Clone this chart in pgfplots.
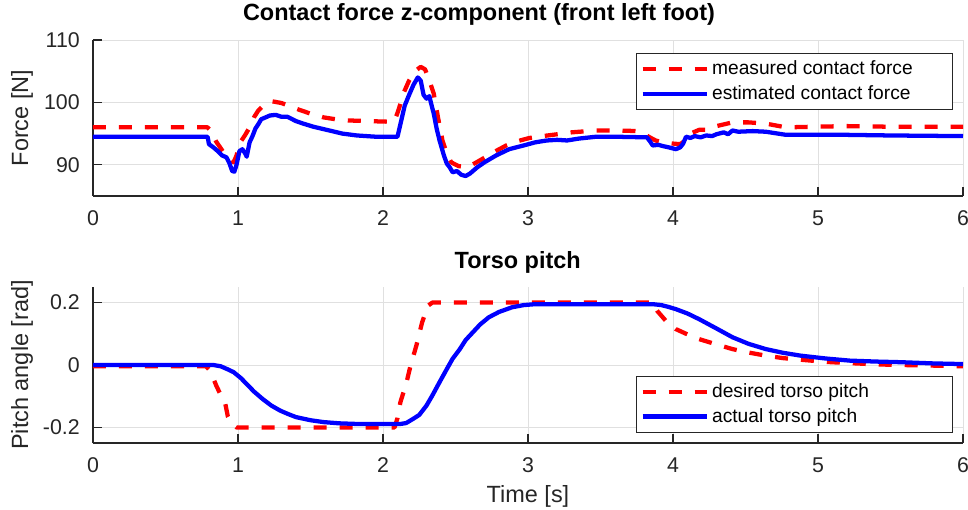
\documentclass[border=0pt]{standalone}
\usepackage{fontspec}
\setmainfont{Liberation Sans}
\usepackage{pgfplots}
\usepackage{pgfplotstable}
\pgfplotsset{compat=1.18}

\definecolor{mred}{rgb}{1,0,0}
\definecolor{mblue}{rgb}{0,0,1}
\definecolor{axgray}{gray}{0.15}
\definecolor{gridgray}{gray}{0.88}

% contact force, z-component
\pgfplotstableread{
t f
0 96.0
0.79 96.0
0.82 95.3
0.85 93.7
0.90 92.0
0.95 90.8
0.97 90.4
0.99 91.5
1.01 93.4
1.05 94.8
1.08 96.0
1.11 97.6
1.14 98.7
1.18 99.6
1.23 100.2
1.30 99.9
1.40 99.0
1.50 98.2
1.59 97.6
1.70 97.2
1.77 97.1
1.90 97.0
2.05 96.9
2.08 97.0
2.11 99.0
2.14 101.4
2.18 103.5
2.22 105.0
2.26 105.7
2.29 105.3
2.32 103.5
2.35 101.4
2.38 97.5
2.41 93.9
2.44 91.8
2.47 90.4
2.52 89.8
2.58 89.6
2.63 90.2
2.69 91.0
2.77 92.1
2.85 93.1
2.93 93.8
3.01 94.3
3.10 94.6
3.17 94.8
3.30 95.2
3.47 95.5
3.60 95.5
3.77 95.4
3.84 94.4
3.88 93.9
3.93 93.6
4.00 93.4
4.05 93.3
4.09 94.0
4.12 95.0
4.18 95.6
4.23 95.6
4.30 96.2
4.41 96.8
4.52 96.8
4.64 96.6
4.78 96.0
4.97 96.1
5.20 96.2
5.50 96.1
6.00 96.1
}\measured

\pgfplotstableread{
t f
0 94.5
0.79 94.5
0.80 93.3
0.83 92.8
0.86 92.2
0.89 91.5
0.92 91.2
0.94 90.3
0.96 89.0
0.975 88.9
0.99 90.0
1.01 92.2
1.03 92.5
1.05 91.8
1.06 91.3
1.08 93.6
1.10 94.6
1.12 95.8
1.14 96.5
1.16 97.3
1.19 97.6
1.22 97.9
1.26 98.0
1.30 97.7
1.34 97.7
1.40 97.0
1.45 96.6
1.52 96.1
1.63 95.5
1.72 95.0
1.82 94.7
1.95 94.5
2.10 94.5
2.12 96.5
2.15 99.5
2.18 101.2
2.21 102.8
2.24 104.0
2.26 103.5
2.28 101.2
2.30 100.6
2.32 101.0
2.33 100.0
2.35 98.2
2.37 95.8
2.39 93.9
2.42 91.5
2.44 90.2
2.46 89.6
2.48 88.8
2.51 89.0
2.54 88.4
2.57 88.2
2.60 88.6
2.65 89.6
2.70 90.4
2.78 91.5
2.87 92.5
2.97 93.1
3.05 93.6
3.13 93.9
3.20 94.0
3.27 93.9
3.35 94.2
3.47 94.5
3.60 94.5
3.82 94.4
3.84 93.8
3.86 93.1
3.90 93.2
3.93 93.0
3.97 92.8
4.02 92.5
4.05 92.8
4.07 93.4
4.09 94.5
4.12 94.3
4.15 94.6
4.19 94.4
4.23 94.7
4.27 94.6
4.30 94.9
4.35 95.2
4.38 94.9
4.41 95.5
4.45 95.3
4.55 95.4
4.64 95.3
4.78 94.8
4.90 94.8
5.20 94.8
5.50 94.7
6.00 94.6
}\estimated

% torso pitch
\pgfplotstableread{
t p
0 -0.004
0.78 -0.004
0.81 -0.02
0.85 -0.066
0.88 -0.095
0.91 -0.119
0.93 -0.165
0.96 -0.19
0.99 -0.2
2.08 -0.2
2.10 -0.17
2.12 -0.119
2.16 -0.06
2.19 -0.002
2.23 0.062
2.27 0.137
2.31 0.19
2.34 0.2
3.86 0.2
3.89 0.174
3.95 0.142
4.02 0.115
4.10 0.098
4.18 0.083
4.30 0.066
4.41 0.051
4.52 0.040
4.64 0.030
4.76 0.022
4.88 0.017
5.05 0.010
5.22 0.006
5.40 0.002
5.57 0.0
5.80 -0.002
6.00 -0.004
}\desired

\pgfplotstableread{
t p
0 0
0.83 0
0.88 -0.004
0.93 -0.014
0.97 -0.023
1.02 -0.042
1.06 -0.061
1.11 -0.085
1.17 -0.109
1.23 -0.130
1.29 -0.146
1.35 -0.158
1.40 -0.167
1.50 -0.177
1.59 -0.183
1.70 -0.187
1.82 -0.189
2.12 -0.189
2.16 -0.186
2.21 -0.172
2.25 -0.160
2.30 -0.130
2.34 -0.098
2.39 -0.055
2.44 -0.013
2.48 0.020
2.53 0.051
2.57 0.080
2.62 0.105
2.67 0.130
2.73 0.153
2.80 0.170
2.89 0.185
2.97 0.192
3.05 0.195
3.86 0.195
3.92 0.192
3.97 0.186
4.02 0.179
4.10 0.165
4.18 0.147
4.30 0.117
4.41 0.089
4.52 0.068
4.64 0.051
4.76 0.039
4.88 0.030
5.05 0.021
5.22 0.014
5.40 0.011
5.57 0.009
5.80 0.005
6.00 0.003
}\actual

\pgfplotsset{
  mat/.style={
    scale only axis, width=652.5pt, height=117pt,
    xmin=0, xmax=6, xtick={0,1,2,3,4,5,6},
    axis x line*=bottom, axis y line*=left,
    axis line style={-, draw=axgray, line width=0.8pt},
    tick align=inside, major tick length=6.75pt,
    tick style={axgray, line width=0.8pt},
    grid=major, grid style={gridgray, line width=0.6pt},
    /pgf/number format/assume math mode=true,
    ticklabel style={font=\fontsize{16}{19}\selectfont, text=axgray},
    xticklabel style={anchor=center, yshift=-16.9pt},
    yticklabel style={anchor=east, inner sep=0pt, xshift=-9.75pt},
    every axis y label/.style={at={(axis description cs:0,0.5)}, rotate=90, anchor=center,
      yshift=53.25pt, font=\fontsize{17.6}{21}\selectfont, text=axgray},
    every axis x label/.style={at={(axis description cs:0.5,0)}, anchor=center,
      yshift=-39.75pt, font=\fontsize{17.6}{21}\selectfont, text=axgray},
    title style={font=\bfseries\fontsize{17.6}{21}\selectfont, at={(0.5,1)}, anchor=base},
    legend image code/.code={\draw[#1] (0pt,0pt) -- (48pt,0pt);},
    legend cell align=left,
    legend style={font=\fontsize{14.4}{17}\selectfont, draw=axgray, line width=0.8pt,
      inner xsep=3pt, inner ysep=3.7pt, row sep=2.8pt, column sep=0.5pt},
  },
  meas/.style={mred, line width=3.2pt, dash pattern=on 9.75pt off 9.75pt, line join=round},
  est/.style={mblue, line width=3.2pt, line join=round},
}

\begin{document}
\begin{tikzpicture}
\path[use as bounding box] (-69.75pt,-235.5pt) rectangle (656.25pt,147pt);

\begin{axis}[mat, at={(0pt,0pt)}, anchor=south west,
    ymin=85, ymax=110, ytick={90,100,110},
    ylabel={Force [N]},
    title={Contact force z-component (front left foot)},
    title style={xshift=-36.75pt, yshift=8.8pt},
    legend style={at={(0.9885,0.9186)}, anchor=north east}]
\addplot[meas] table[x=t, y=f] {\measured};
\addlegendentry{\makebox[175.25pt][l]{measured contact force}}
\addplot[est] table[x=t, y=f] {\estimated};
\addlegendentry{\makebox[175.25pt][l]{estimated contact force}}
\end{axis}

\begin{axis}[mat, at={(0pt,-185.25pt)}, anchor=south west,
    ymin=-0.25, ymax=0.25, ytick={-0.2,0,0.2}, yticklabels={-0.2,0,0.2},
    ylabel={Pitch angle [rad]}, xlabel={Time [s]},
    title={Torso pitch},
    title style={xshift=-7.7pt, yshift=8.25pt},
    legend style={at={(0.9885,0.066)}, anchor=south east}]
\addplot[meas] table[x=t, y=p] {\desired};
\addlegendentry{\makebox[175.25pt][l]{desired torso pitch}}
\addplot[est] table[x=t, y=p] {\actual};
\addlegendentry{\makebox[175.25pt][l]{actual torso pitch}}
\end{axis}
\end{tikzpicture}
\end{document}
